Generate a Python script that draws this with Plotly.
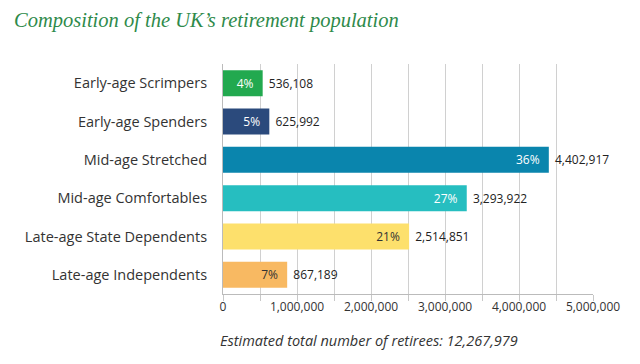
import plotly.graph_objects as go

categories = ["Early-age Scrimpers", "Early-age Spenders", "Mid-age Stretched",
              "Mid-age Comfortables", "Late-age State Dependents", "Late-age Independents"]
values = [536108, 625992, 4402917, 3293922, 2514851, 867189]
pct_labels = ["4%", "5%", "36%", "27%", "21%", "7%"]
value_labels = ["536,108", "625,992", "4,402,917", "3,293,922", "2,514,851", "867,189"]
colors = ["#22a94f", "#2b4a7c", "#0a85ad", "#26bec0", "#fde06c", "#f8b962"]
pct_colors = ["white", "white", "white", "white", "#333333", "#333333"]
tick_vals = [0, 500000, 1000000, 1500000, 2000000, 2500000, 3000000, 3500000, 4000000, 4500000, 5000000]
tick_text = ["0", "", "1,000,000", "", "2,000,000", "", "3,000,000", "", "4,000,000", "", "5,000,000"]
title_text = "Composition of the UK\u2019s retirement population"
footnote = "Estimated total number of retirees: 12,267,979"

fig = go.Figure()
fig.add_trace(go.Bar(
    y=categories, x=values, orientation="h",
    marker=dict(color=colors, line=dict(width=0)),
    text=[t + "\u00a0\u00a0" for t in pct_labels], textposition="inside", insidetextanchor="end",
    textfont=dict(family="Open Sans", size=12, color=pct_colors),
    width=0.68, hoverinfo="skip", showlegend=False,
))
fig.add_trace(go.Bar(
    y=categories, x=values, orientation="h",
    marker=dict(color="rgba(0,0,0,0)", line=dict(width=0)),
    text=["\u00a0" + t for t in value_labels], textposition="outside", cliponaxis=False,
    textfont=dict(family="Open Sans", size=12, color="#222222"),
    width=0.68, hoverinfo="skip", showlegend=False,
))
fig.update_layout(
    width=640, height=364,
    barmode="overlay",
    margin=dict(l=223, r=47, t=64, b=70),
    paper_bgcolor="white", plot_bgcolor="white",
    font=dict(family="Open Sans", color="#333333"),
    xaxis=dict(range=[0, 5000000], tickvals=tick_vals, ticktext=tick_text,
               showgrid=True, gridcolor="#d0d0d0", gridwidth=1, automargin=False,
               zeroline=False, showline=True, linecolor="#bbbbbb",
               ticks="outside", ticklen=6, tickcolor="#c8c8c8",
               ticklabelstandoff=-4,
               tickfont=dict(size=12, color="#333333")),
    yaxis=dict(autorange="reversed", showgrid=False, zeroline=False, automargin=False,
               showline=True, linecolor="#bbbbbb",
               ticklabelstandoff=12,
               tickfont=dict(size=14.5, color="#333333")),
    annotations=[
        dict(text=title_text, xref="paper", yref="paper", x=-211/370, y=1 + 44/230,
             xanchor="left", yanchor="middle", showarrow=False,
             font=dict(family="Liberation Serif", size=20.5, color="#2e8a4a", style="italic")),
        dict(text=footnote, xref="paper", yref="paper", x=(369-223)/370, y=-46/230,
             xanchor="center", yanchor="middle", showarrow=False,
             font=dict(family="Open Sans", size=14.5, color="#333333", style="italic")),
    ],
)
fig.write_html("out.html", post_script="document.body.style.margin='0';",
               config={"displayModeBar": False})
